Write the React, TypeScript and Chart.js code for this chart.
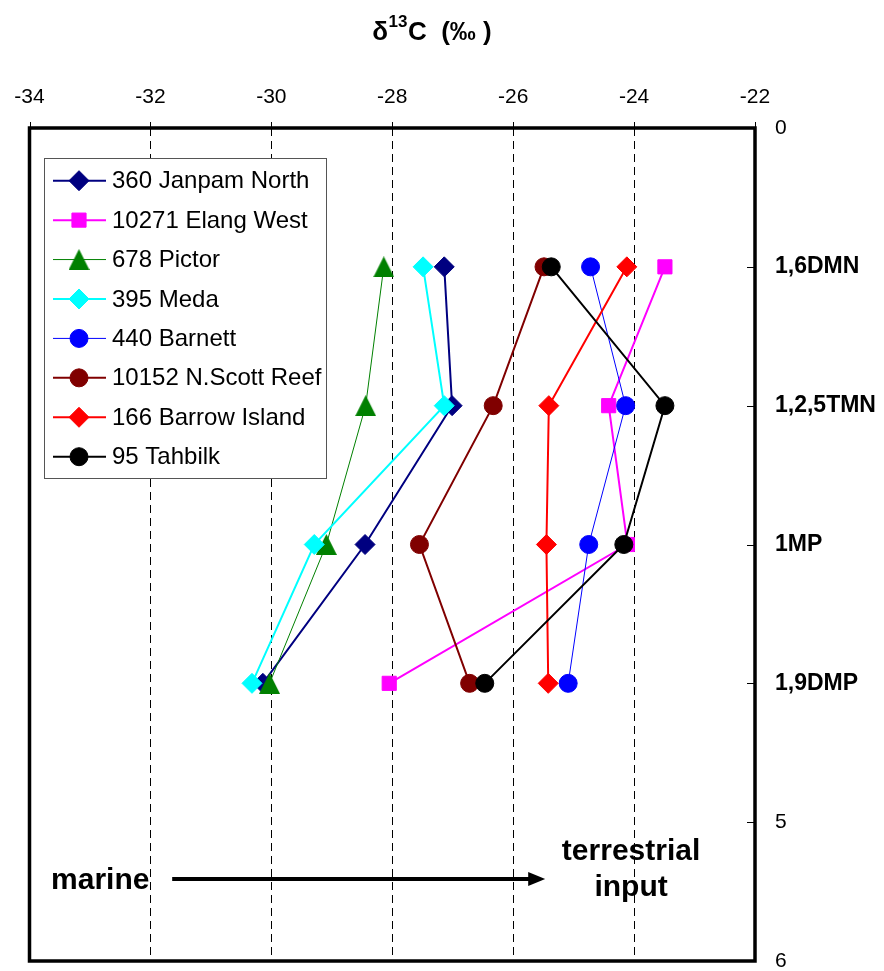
import React, { useEffect, useRef } from 'react';
import { Chart, registerables } from 'chart.js';
import { drawPoint } from 'chart.js/helpers';

Chart.register(...registerables);

const FONT = '"Liberation Sans", Arial, Helvetica, sans-serif';

// ---- data ----
const LEVELS = [1, 2, 3, 4];
const Y_TICK_LABELS = ['0', '1,6DMN', '1,2,5TMN', '1MP', '1,9DMP', '5', '6'];
const X_TICKS = [-34, -32, -30, -28, -26, -24, -22];
const SERIES_NAMES = [
  '360 Janpam North',
  '10271 Elang West',
  '678 Pictor',
  '395 Meda',
  '440 Barnett',
  '10152 N.Scott Reef',
  '166 Barrow Island',
  '95 Tahbilk',
];
const janpamNorth = [-27.14, -27.01, -28.45, -30.14];
const elangWest = [-23.49, -24.42, -24.11, -28.05];
const pictor = [-28.14, -28.44, -29.09, -30.03];
const meda = [-27.49, -27.14, -29.29, -30.32];
const barnett = [-24.72, -24.14, -24.75, -25.09];
const nScottReef = [-25.49, -26.33, -27.55, -26.72];
const barrowIsland = [-24.12, -25.41, -25.45, -25.42];
const tahbilk = [-25.37, -23.49, -24.17, -26.47];
const SERIES_VALUES = [janpamNorth, elangWest, pictor, meda, barnett, nScottReef, barrowIsland, tahbilk];

const TITLE_MAIN = 'δ';
const TITLE_SUP = '13';
const TITLE_REST = 'C  (‰ )';
const ANNOT_LEFT = 'marine';
const ANNOT_RIGHT_1 = 'terrestrial';
const ANNOT_RIGHT_2 = 'input';

// ---- styles ----
const COLORS = ['#000080', '#FF00FF', '#008000', '#00FFFF', '#0000FF', '#800000', '#FF0000', '#000000'];
const POINT_STYLES = ['rectRot', 'rect', 'triangle', 'rectRot', 'circle', 'circle', 'rectRot', 'circle'];
const POINT_RADII = [10, 10, 11, 10, 9, 9, 10, 9];
const LINE_WIDTHS = [2, 2, 1, 2, 1, 2, 2, 2];

function makeTriangle(color: string, size: number) {
  const c = document.createElement('canvas');
  c.width = size;
  c.height = size;
  const g = c.getContext('2d')!;
  g.fillStyle = color;
  g.beginPath();
  g.moveTo(size / 2, 0);
  g.lineTo(size, size);
  g.lineTo(0, size);
  g.closePath();
  g.fill();
  return c;
}

export default function App() {
  const ref = useRef<HTMLCanvasElement | null>(null);

  useEffect(() => {
    if (!ref.current) return;
    const styles: any[] = POINT_STYLES.map((s, i) => (s === 'triangle' ? makeTriangle(COLORS[i], 21) : s));

    const datasets = SERIES_NAMES.map((name, i) => ({
      label: name,
      data: LEVELS.map((lv, j) => ({ x: SERIES_VALUES[i][j], y: lv })),
      borderColor: COLORS[i],
      backgroundColor: COLORS[i],
      pointBackgroundColor: COLORS[i],
      pointBorderColor: COLORS[i],
      borderWidth: LINE_WIDTHS[i],
      pointStyle: styles[i],
      pointRadius: POINT_RADII[i],
      pointBorderWidth: 1,
      showLine: true,
      tension: 0,
      order: SERIES_NAMES.length - i,
    }));

    const decor = {
      id: 'decor',
      afterDraw(chart: any) {
        const { ctx, chartArea: a, scales } = chart;
        const xs = scales.x;
        const ys = scales.y;
        ctx.save();
        // frame
        ctx.strokeStyle = '#000';
        ctx.lineWidth = 3.5;
        ctx.strokeRect(a.left, a.top, a.right - a.left, a.bottom - a.top);
        // ticks
        ctx.lineWidth = 1;
        ctx.beginPath();
        X_TICKS.forEach((v) => {
          const px = Math.round(xs.getPixelForValue(v)) + 0.5;
          ctx.moveTo(px, a.top - 6);
          ctx.lineTo(px, a.top + 7);
        });
        Y_TICK_LABELS.forEach((_, v) => {
          const py = Math.round(ys.getPixelForValue(v)) + 0.5;
          ctx.moveTo(a.right - 8, py);
          ctx.lineTo(a.right, py);
        });
        ctx.stroke();

        // title
        ctx.fillStyle = '#000';
        ctx.textBaseline = 'alphabetic';
        ctx.textAlign = 'left';
        const fMain = `bold 26px ${FONT}`;
        const fSup = `bold 17px ${FONT}`;
        ctx.font = fMain;
        const w1 = ctx.measureText(TITLE_MAIN).width;
        const w3 = ctx.measureText(TITLE_REST).width;
        ctx.font = fSup;
        const w2 = ctx.measureText(TITLE_SUP).width;
        const cx = 432;
        let tx = cx - (w1 + w2 + w3 + 1) / 2;
        ctx.font = fMain;
        ctx.fillText(TITLE_MAIN, tx, 40);
        tx += w1 + 0.5;
        ctx.font = fSup;
        ctx.fillText(TITLE_SUP, tx, 27);
        tx += w2 + 0.5;
        ctx.font = fMain;
        ctx.fillText(TITLE_REST, tx, 40);

        // legend
        const lx = a.left + 14.5;
        const ly = a.top + 30;
        const lw = 282;
        const lh = 320;
        ctx.fillStyle = '#fff';
        ctx.fillRect(lx, ly, lw, lh);
        ctx.strokeStyle = '#555';
        ctx.lineWidth = 1;
        ctx.strokeRect(Math.round(lx) + 0.5, Math.round(ly) + 0.5, lw, lh);
        ctx.font = `24px ${FONT}`;
        ctx.textBaseline = 'middle';
        SERIES_NAMES.forEach((name, i) => {
          const iy = ly + 22.7 + i * 39.43;
          ctx.strokeStyle = COLORS[i];
          ctx.lineWidth = LINE_WIDTHS[i];
          ctx.beginPath();
          ctx.moveTo(lx + 9, iy);
          ctx.lineTo(lx + 62, iy);
          ctx.stroke();
          ctx.fillStyle = COLORS[i];
          ctx.strokeStyle = COLORS[i];
          ctx.lineWidth = 1;
          drawPoint(ctx, { pointStyle: styles[i], radius: POINT_RADII[i], rotation: 0, borderWidth: 1 } as any, lx + 35, iy);
          ctx.fillStyle = '#000';
          ctx.fillText(name, lx + 68, iy + 1);
        });

        // annotation
        ctx.fillStyle = '#000';
        ctx.font = `bold 30px ${FONT}`;
        ctx.textAlign = 'center';
        ctx.textBaseline = 'middle';
        const yA = ys.getPixelForValue(5.41);
        ctx.fillText(ANNOT_LEFT, xs.getPixelForValue(-32.83), yA + 2);
        ctx.fillText(ANNOT_RIGHT_1, xs.getPixelForValue(-24.05), ys.getPixelForValue(5.21));
        ctx.fillText(ANNOT_RIGHT_2, xs.getPixelForValue(-24.05), ys.getPixelForValue(5.47));
        const ax0 = xs.getPixelForValue(-31.64);
        const ax1 = xs.getPixelForValue(-25.47);
        ctx.strokeStyle = '#000';
        ctx.lineWidth = 4;
        ctx.beginPath();
        ctx.moveTo(ax0, yA);
        ctx.lineTo(ax1 - 14, yA);
        ctx.stroke();
        ctx.beginPath();
        ctx.moveTo(ax1, yA);
        ctx.lineTo(ax1 - 17, yA - 7);
        ctx.lineTo(ax1 - 17, yA + 7);
        ctx.closePath();
        ctx.fill();
        ctx.restore();
      },
    };

    const chart = new Chart(ref.current, {
      type: 'scatter',
      data: { datasets: datasets as any },
      options: {
        responsive: false,
        animation: false,
        devicePixelRatio: 1,
        layout: { autoPadding: false, padding: { left: 29.5, right: 0, top: 0, bottom: 10 } },
        plugins: { legend: { display: false }, tooltip: { enabled: false }, title: { display: false } },
        scales: {
          x: {
            type: 'linear',
            position: 'top',
            min: -34,
            max: -22,
            afterFit: (s: any) => {
              s.height = 128;
              s.paddingLeft = 0;
              s.paddingRight = 0;
              s.paddingTop = 0;
              s.paddingBottom = 0;
            },
            afterBuildTicks: (s: any) => {
              s.ticks = X_TICKS.map((v) => ({ value: v }));
            },
            ticks: {
              autoSkip: false,
              maxRotation: 0,
              color: '#000',
              padding: 18,
              font: { family: FONT, size: 21 },
            },
            grid: {
              drawTicks: false,
              color: (c: any) => (c.tick && (c.tick.value === -34 || c.tick.value === -22) ? 'rgba(0,0,0,0)' : '#000'),
              lineWidth: 1,
            },
            border: { display: false, dash: [8, 5] },
          },
          y: {
            type: 'linear',
            position: 'right',
            min: 0,
            max: 6,
            reverse: true,
            afterFit: (s: any) => {
              s.width = 129;
              s.paddingLeft = 0;
              s.paddingRight = 0;
              s.paddingTop = 0;
              s.paddingBottom = 0;
            },
            afterBuildTicks: (s: any) => {
              s.ticks = Y_TICK_LABELS.map((_, v) => ({ value: v }));
            },
            ticks: {
              autoSkip: false,
              color: '#000',
              padding: 20,
              callback: (v: any) => Y_TICK_LABELS[Number(v)] ?? '',
              font: (c: any) => {
                const v = c.tick ? c.tick.value : 0;
                const cat = v >= 1 && v <= 4;
                return { family: FONT, size: cat ? 23 : 21, weight: cat ? 'bold' : 'normal' } as any;
              },
            },
            grid: { display: false, drawTicks: false },
            border: { display: false },
          },
        },
      },
      plugins: [decor],
    });
    return () => chart.destroy();
  }, []);

  return (
    <div style={{ position: 'absolute', left: 0, top: 0, width: 884, height: 971, background: '#fff' }}>
      <canvas ref={ref} width={884} height={971} style={{ display: 'block', width: 884, height: 971 }} />
    </div>
  );
}
